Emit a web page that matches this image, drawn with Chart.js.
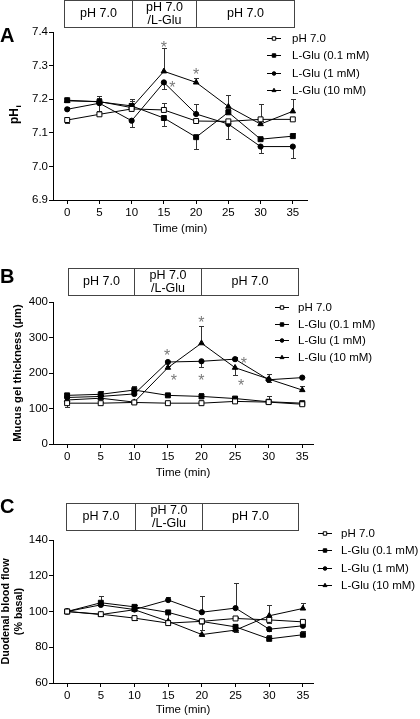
<!DOCTYPE html>
<html><head><meta charset="utf-8">
<script src="https://cdn.jsdelivr.net/npm/chart.js@4.4.1/dist/chart.umd.min.js"></script>
<style>
html,body{margin:0;padding:0;background:#fff;width:420px;height:719px;overflow:hidden;position:relative}
canvas{position:absolute;left:0}
</style></head>
<body>
<canvas id="cA" width="420" height="240" style="top:0"></canvas>
<canvas id="cB" width="420" height="244" style="top:240px"></canvas>
<canvas id="cC" width="420" height="241" style="top:480px"></canvas>
<script>
// ---------- data ----------
const times = [0, 5, 10, 15, 20, 25, 30, 35];
const seriesNames = ['pH 7.0', 'L-Glu (0.1 mM)', 'L-Glu (1 mM)', 'L-Glu (10 mM)'];
const phaseLabels = ['pH 7.0', ['pH 7.0', '/L-Glu'], 'pH 7.0'];
const phaseBounds = [0, 10, 20, 35];

// Panel A: intracellular pH
const phiTicks = [6.9, 7.0, 7.1, 7.2, 7.3, 7.4];
const phiCtrl  = [7.138, 7.155, 7.171, 7.168, 7.135, 7.134, 7.140, 7.140];
const phiGlu01 = [7.197, 7.192, 7.180, 7.144, 7.087, 7.161, 7.081, 7.090];
const phiGlu1  = [7.170, 7.188, 7.136, 7.250, 7.156, 7.126, 7.059, 7.059];
const phiGlu10 = [7.195, 7.193, 7.175, 7.283, 7.250, 7.178, 7.126, 7.164];
// signed SEM (positive = bar drawn up, negative = bar drawn down)
const phiCtrlErr  = [-0.008, 0.010, 0.010, 0.022, 0, 0, 0.047, 0];
const phiGlu01Err = [0.005, 0.017, 0.015, -0.024, -0.036, 0.010, 0.005, 0.010];
const phiGlu1Err  = [0.008, -0.025, -0.018, -0.020, 0.030, -0.043, -0.018, -0.035];
const phiGlu10Err = [0.005, 0.010, 0.025, 0.068, 0.014, 0.035, 0.010, 0.038];
const phiStarX = [15, 16.3, 20];
const phiStarY = [7.366, 7.247, 7.285];

// Panel B: mucus gel thickness
const mucusTicks = [0, 100, 200, 300, 400];
const mucusCtrl  = [115, 115, 117, 115, 115, 120, 118, 112];
const mucusGlu01 = [137, 140, 152, 137, 134, 128, 119, 115];
const mucusGlu1  = [131, 134, 141, 231, 233, 239, 181, 187];
const mucusGlu10 = [124, 129, 118, 215, 284, 215, 183, 152];
const mucusCtrlErr  = [-10, 3, -4, 3, 3, 3, 3, -3];
const mucusGlu01Err = [5, 8, 10, 4, 11, 5, 15, 5];
const mucusGlu1Err  = [5, 5, 5, 4, -17, 5, -5, 4];
const mucusGlu10Err = [5, 5, 5, 5, 47, -20, 13, 10];
const mucusStarX = [14.9, 15.9, 20, 20, 26.3, 25.9];
const mucusStarY = [261, 190, 352, 190, 237, 176];

// Panel C: duodenal blood flow
const flowTicks = [60, 80, 100, 120, 140];
const flowCtrl  = [100, 98.5, 96.3, 93.5, 94.5, 96.1, 95.3, 94.2];
const flowGlu01 = [100, 104.9, 102.6, 99.5, 94.4, 91.4, 84.7, 87.0];
const flowGlu1  = [100, 103.7, 101.1, 106.4, 99.6, 101.9, 90.1, 92.0];
const flowGlu10 = [100, 98.3, 101.0, 94.5, 87.1, 89.6, 97.6, 101.7];
const flowCtrlErr  = [0, -1, -1, -1, -1, 1, -2, 1];
const flowGlu01Err = [0, 3.7, 1, -4, -5, -2, 2, 2.2];
const flowGlu1Err  = [0, 1, 1, 1.8, 9, 13.8, -1, 1];
const flowGlu10Err = [0, -1, 1, -1, -1, -1, 6, 3.3];
const flowStarX = [];
const flowStarY = [];

// ---------- styling ----------
const F = "'Liberation Sans', Arial, sans-serif";
const STY = [
  {style: 'rect', r: 3.5, fill: '#ffffff'},
  {style: 'rect', r: 3.5, fill: '#000000'},
  {style: 'circle', r: 2.6, fill: '#000000'},
  {style: 'triangle', r: 3.2, fill: '#000000'}
];

function makePanel(id, cfg) {
  const datasets = cfg.values.map((vals, i) => ({
    label: seriesNames[i],
    data: times.map((t, j) => ({x: t, y: vals[j]})),
    borderColor: '#000', borderWidth: 1, tension: 0, fill: false,
    pointStyle: STY[i].style, pointRadius: STY[i].r, pointHoverRadius: STY[i].r,
    pointBackgroundColor: STY[i].fill, pointBorderColor: '#000', pointBorderWidth: 1
  }));

  const deco = {
    id: 'deco' + id,
    beforeDatasetsDraw(chart) {
      const ctx = chart.ctx, xs = chart.scales.x, ys = chart.scales.y;
      ctx.save();
      ctx.strokeStyle = '#333'; ctx.lineWidth = 1;
      cfg.errs.forEach((errs, i) => {
        errs.forEach((e, j) => {
          if (!e) return;
          const x = Math.round(xs.getPixelForValue(times[j])) + 0.5;
          const y0 = ys.getPixelForValue(cfg.values[i][j]);
          const y1 = Math.round(ys.getPixelForValue(cfg.values[i][j] + e)) + 0.5;
          ctx.beginPath();
          ctx.moveTo(x, y0); ctx.lineTo(x, y1);
          ctx.moveTo(x - 2.5, y1); ctx.lineTo(x + 2.5, y1);
          ctx.stroke();
        });
      });
      ctx.restore();
    },
    afterDatasetsDraw(chart) {
      const ctx = chart.ctx, xs = chart.scales.x, ys = chart.scales.y;
      ctx.save();
      ctx.fillStyle = '#7a7a7a';
      ctx.font = '16px ' + F;
      ctx.textAlign = 'center'; ctx.textBaseline = 'alphabetic';
      cfg.starX.forEach((sx, k) => {
        const px = xs.getPixelForValue(sx), py = ys.getPixelForValue(cfg.starY[k]);
        ctx.fillText('*', px, py + 0.58 * 16);
      });
      ctx.restore();
    },
    afterDraw(chart) {
      const ctx = chart.ctx, xs = chart.scales.x, ys = chart.scales.y;
      ctx.save();
      // panel letter
      ctx.fillStyle = '#000';
      ctx.font = 'bold 20px ' + F;
      ctx.textAlign = 'left'; ctx.textBaseline = 'alphabetic';
      ctx.fillText(cfg.letter, 0, cfg.letterY);
      // phase header box
      const px = phaseBounds.map(v => xs.getPixelForValue(v));
      px[0] += cfg.boxInset[0]; px[3] += cfg.boxInset[1];
      const bx = px.map(v => Math.round(v) + 0.5);
      const top = cfg.boxTop + 0.5, h = 27;
      ctx.strokeStyle = '#444'; ctx.lineWidth = 1;
      ctx.strokeRect(bx[0], top, bx[3] - bx[0], h);
      ctx.beginPath();
      ctx.moveTo(bx[1], top); ctx.lineTo(bx[1], top + h);
      ctx.moveTo(bx[2], top); ctx.lineTo(bx[2], top + h);
      ctx.stroke();
      ctx.font = '12.5px ' + F; ctx.textAlign = 'center'; ctx.textBaseline = 'middle';
      phaseLabels.forEach((lab, k) => {
        const cx = (bx[k] + bx[k + 1]) / 2, cy = top + h / 2;
        if (Array.isArray(lab)) {
          ctx.fillText(lab[0], cx, cy - 6.5);
          ctx.fillText(lab[1], cx, cy + 6.5);
        } else ctx.fillText(lab, cx, cy);
      });
      // legend
      ctx.font = '11.5px ' + F; ctx.textAlign = 'left'; ctx.textBaseline = 'middle';
      seriesNames.forEach((name, i) => {
        const y = Math.round(cfg.legY + i * cfg.legGap) + 0.5;
        const x0 = cfg.legX;
        ctx.strokeStyle = '#000'; ctx.lineWidth = 1;
        ctx.beginPath(); ctx.moveTo(x0, y); ctx.lineTo(x0 + 14, y); ctx.stroke();
        ctx.fillStyle = STY[i].fill; ctx.strokeStyle = '#000';
        Chart.helpers.drawPoint(ctx, {pointStyle: STY[i].style, radius: STY[i].r * 0.7, borderWidth: 1, rotation: 0}, x0 + 7, y);
        ctx.fillStyle = '#000';
        ctx.fillText(name, x0 + cfg.legText, y);
      });
      // custom y title with subscript (panel A)
      if (cfg.subTitle) {
        const cy = (ys.top + ys.bottom) / 2;
        ctx.translate(15, cy);
        ctx.rotate(-Math.PI / 2);
        ctx.font = 'bold 12px ' + F; ctx.textAlign = 'center'; ctx.textBaseline = 'middle';
        ctx.fillText(cfg.subTitle[0], 0, 0);
        const w = ctx.measureText(cfg.subTitle[0]).width;
        ctx.font = 'bold 8px ' + F; ctx.textAlign = 'left';
        ctx.fillText(cfg.subTitle[1], w / 2 + 0.5, 4);
      }
      ctx.restore();
    }
  };

  return new Chart(document.getElementById(id), {
    type: 'line',
    data: {datasets},
    options: {
      responsive: false, animation: false, events: [],
      layout: {padding: {top: cfg.padTop, right: cfg.padRight, left: 0, bottom: 0}},
      plugins: {legend: {display: false}, tooltip: {enabled: false}},
      scales: {
        x: {
          type: 'linear', min: cfg.xMin, max: cfg.xMax,
          afterBuildTicks: s => { s.ticks = times.map(v => ({value: v})); },
          afterFit: s => { s.height = cfg.xH; },
          grid: {display: true, drawOnChartArea: false, drawTicks: true, tickLength: 4, color: '#000', lineWidth: 1},
          border: {display: true, color: '#000', width: 1},
          ticks: {color: '#000', font: {family: F, size: 11.5}, padding: 2, maxRotation: 0, autoSkip: false},
          title: {display: true, text: 'Time (min)', color: '#000', font: {family: F, size: 11.5}, padding: {top: 0, bottom: 4}}
        },
        y: {
          type: 'linear', min: cfg.yTicks[0], max: cfg.yTicks[cfg.yTicks.length - 1],
          afterBuildTicks: s => { s.ticks = cfg.yTicks.map(v => ({value: v})); },
          afterFit: s => { s.width = 53; },
          grid: {display: true, drawOnChartArea: false, drawTicks: true, tickLength: 4, color: '#000', lineWidth: 1},
          border: {display: true, color: '#000', width: 1},
          ticks: {color: '#000', font: {family: F, size: 11.5}, padding: 1, autoSkip: false,
                  callback: v => cfg.fmt(v)},
          title: cfg.yTitle
            ? {display: true, text: cfg.yTitle, color: '#000', font: {family: F, size: cfg.yTitleSize, weight: 'bold'}, padding: {top: cfg.yTitlePad, bottom: 0}}
            : {display: false}
        }
      }
    },
    plugins: [deco]
  });
}

makePanel('cA', {
  letter: 'A', letterY: 42,
  values: [phiCtrl, phiGlu01, phiGlu1, phiGlu10],
  errs: [phiCtrlErr, phiGlu01Err, phiGlu1Err, phiGlu10Err],
  starX: phiStarX, starY: phiStarY,
  yTicks: phiTicks, fmt: v => v.toFixed(1),
  subTitle: ['pH', 'i'],
  xMin: -2.2, xMax: 37.2, padTop: 32, padRight: 113, xH: 40,
  boxTop: 0, boxInset: [-3, 1],
  legX: 267, legY: 38, legGap: 17.3, legText: 25
});

makePanel('cB', {
  letter: 'B', letterY: 43,
  values: [mucusCtrl, mucusGlu01, mucusGlu1, mucusGlu10],
  errs: [mucusCtrlErr, mucusGlu01Err, mucusGlu1Err, mucusGlu10Err],
  starX: mucusStarX, starY: mucusStarY,
  yTicks: mucusTicks, fmt: v => String(v),
  yTitle: 'Mucus gel thickness (\u00b5m)', yTitleSize: 11.3, yTitlePad: 11,
  xMin: -2.1, xMax: 36.6, padTop: 62, padRight: 107, xH: 40,
  boxTop: 28, boxInset: [1, -4],
  legX: 275, legY: 67, legGap: 16.7, legText: 23
});

makePanel('cC', {
  letter: 'C', letterY: 33,
  values: [flowCtrl, flowGlu01, flowGlu1, flowGlu10],
  errs: [flowCtrlErr, flowGlu01Err, flowGlu1Err, flowGlu10Err],
  starX: flowStarX, starY: flowStarY,
  yTicks: flowTicks, fmt: v => String(v),
  yTitle: ['Duodenal blood flow', '(% basal)'], yTitleSize: 10.8, yTitlePad: 0,
  xMin: -2.1, xMax: 36.5, padTop: 60, padRight: 107, xH: 38,
  boxTop: 23, boxInset: [-1, -5],
  legX: 318, legY: 53, legGap: 17.3, legText: 23
});
</script>
</body></html>
